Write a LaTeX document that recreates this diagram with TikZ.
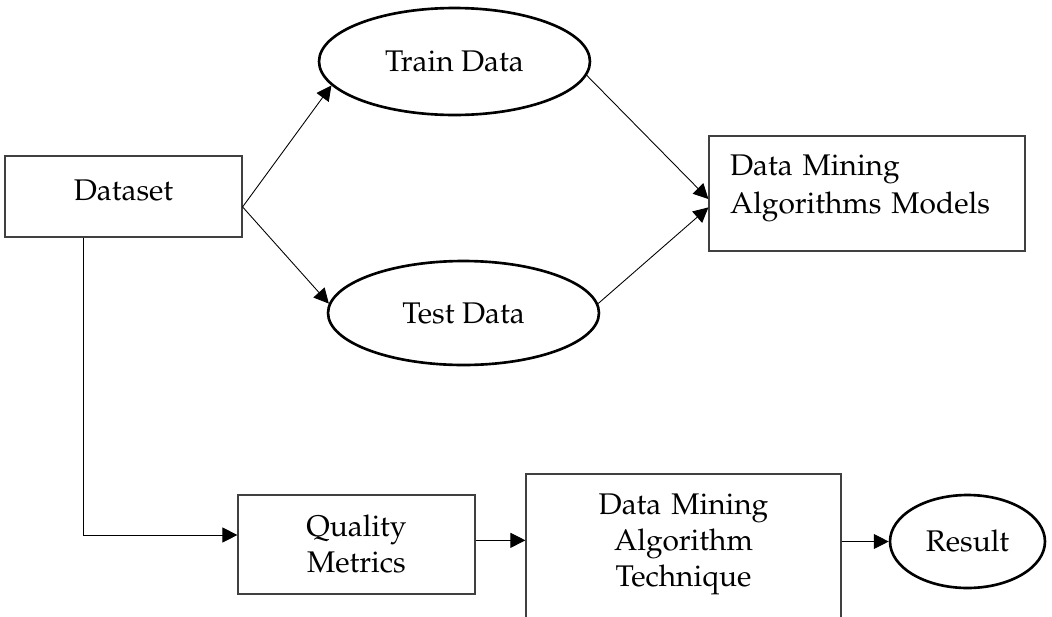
\documentclass[tikz,border=0pt]{standalone}
\usepackage[T1]{fontenc}
\usepackage{mathpazo}
\usetikzlibrary{shapes.geometric, arrows.meta, positioning}

\begin{document}
\begin{tikzpicture}[
    x=0.02cm, y=-0.02cm,
    font=\fontsize{17}{20.5}\selectfont,
    box/.style={rectangle, draw=black!75, line width=0.7pt, inner sep=0pt, text height=11.7pt},
    oval/.style={ellipse, draw=black, line width=1.5pt, inner sep=0pt},
    arrow/.style={-{Triangle[length=8.5pt, width=8.5pt]}, line width=0.5pt, draw=black}
]
\useasboundingbox (0,0) rectangle (1052,616);

% upper part: split of the data
\node (dataset) [box, minimum width=4.74cm, minimum height=1.62cm, text depth=7.3pt] at (123.5,196.5) {Dataset};
\node (train) [oval, minimum width=5.42cm, minimum height=2.14cm] at (454.5,61.5) {Train Data};
\node (test) [oval, minimum width=5.42cm, minimum height=2.08cm] at (463.5,313) {Test Data};
\node (models) [box, minimum width=6.32cm, minimum height=2.3cm, text width=5.48cm, align=left,
    font=\fontsize{17}{21.5}\selectfont, text depth=32.2pt] at (867,193.5) {Data Mining\\Algorithms Models};

% lower part: evaluation chain
\node (quality) [box, minimum width=4.74cm, minimum height=1.98cm, text width=4.4cm, align=center, text depth=20.4pt] at (356.5,544.5) {Quality\\Metrics};
\node (technique) [box, minimum width=6.3cm, minimum height=2.92cm, text width=5.9cm, align=center, text depth=48.9pt] at (683.5,547) {Data Mining\\Algorithm\\Technique};
\node (result) [oval, minimum width=3.1cm, minimum height=1.86cm] at (967.5,541.5) {Result};

\coordinate (corner) at (83,535);

\draw[arrow] (dataset.-5) -- (train.191);
\draw[arrow] (dataset.-5) -- (test.176);
\draw[arrow] (train.-6) -- (models.182);
\draw[arrow] (test.4) -- (models.185);
\draw[arrow] (dataset.south -| corner) -- (corner) -- (quality.west |- corner);
\draw[arrow] (quality.2) -- (technique.west |- quality.2);
\draw[arrow] (technique.east |- result.west) -- (result.west);
\end{tikzpicture}
\end{document}
